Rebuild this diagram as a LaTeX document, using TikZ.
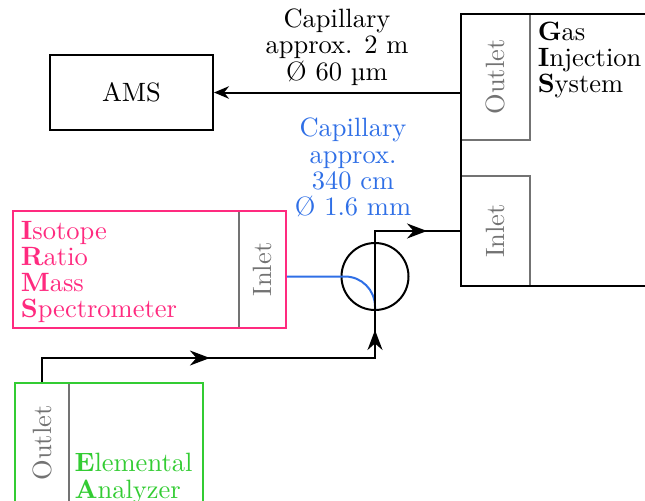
\documentclass[tikz,border=0pt]{standalone}
\usepackage{fontspec}
\usepackage{tikz}
\usetikzlibrary{arrows.meta,positioning,decorations.markings}
\definecolor{irmspink}{HTML}{FF2A7F}
\definecolor{eagreen}{HTML}{33CC33}
\definecolor{capblue}{HTML}{2F6FE6}
\newdimen\px \px=0.4pt

\begin{document}
\begin{tikzpicture}[x=\px,y=-\px,every node/.style={font=\fontsize{10.6}{10.5}\selectfont,align=center},box/.style={draw,thick,inner sep=0pt},sub/.style={draw=black!55,thick,inner sep=0pt},port/.style={rotate=90,text=black!55},line/.style={thick},arrowat/.style={postaction={decorate},decoration={markings,mark=at position #1 with {\arrow{Stealth[length=8pt,width=6pt]}}}},twoarrows/.style 2 args={postaction={decorate},decoration={markings,mark=at position #1 with {\arrow{Stealth[length=8pt,width=6pt]}},mark=at position #2 with {\arrow{Stealth[length=8pt,width=6pt]}}}}]
\clip (0,0) rectangle (645,500);
% gas injection system
\node[sub,minimum width=69\px,minimum height=126\px] (gisout) at (495.5,77) {};
\node[sub,minimum width=69\px,minimum height=110\px] (gisin) at (495.5,231) {};
\node[box,minimum width=200\px,minimum height=272\px] (gis) at (561,150) {};
\node[port] (gisout-txt) at (gisout) {Outlet};
\node[port] (gisin-txt) at (gisin) {Inlet};
\node[anchor=north west,inner sep=2.5pt,yshift=-2\px,align=left] (gis-txt) at (gisout.north east) {\textbf{G}as\\\textbf{I}njection\\\textbf{S}ystem};
% AMS
\node[box,minimum width=163\px,minimum height=75\px] (ams) at (131.5,92.5) {AMS};
\draw[line,-{Stealth[length=6pt,width=5pt]}] (ams.east -| gisout.west) -- node[above,inner sep=2.5pt] (cap-ams) {Capillary\\approx. 2 m\\Ø 60 µm} (ams.east);
% IRMS
\node[sub,minimum width=47\px,minimum height=117\px] (irmsin) at (262.5,269.5) {};
\node[box,draw=irmspink,minimum width=273\px,minimum height=117\px] (irms) at (149.5,269.5) {};
\node[port] (irmsin-txt) at (irmsin) {Inlet};
\node[anchor=north west,text=irmspink,yshift=-2\px,align=left] (irms-txt) at (irms.north west) {\textbf{I}sotope\\\textbf{R}atio\\\textbf{M}ass\\\textbf{S}pectrometer};
% valve
\node[draw,thick,circle,minimum size=67\px,inner sep=0pt] (valve) at (375,276.5) {};
\draw[line,capblue,rounded corners=30\px] (irms.east |- valve.center) -| (valve.south);
\node[text=capblue,anchor=south] (cap-irms) at (353,226) {Capillary\\approx.\\340 cm\\Ø 1.6 mm};
% elemental analyzer
\node[sub,minimum width=54\px,minimum height=120\px] (eaout) at (42,443) {};
\node[box,draw=eagreen,minimum width=188\px,minimum height=120\px] (ea) at (109,443) {};
\node[port] (eaout-txt) at (eaout) {Outlet};
\node[anchor=north west,inner sep=2pt,text=eagreen,align=left] (ea-txt) at (69,448) {\textbf{E}lemental\\\textbf{A}nalyzer};
% flow
\coordinate (ea-turn) at (375,358);
\draw[line,twoarrows={0.475}{0.953}] (eaout.north) |- (ea-turn) -- (valve.south);
\draw[line,arrowat=0.8] (valve.south) -- (valve.north) |- (gisin.west);
\end{tikzpicture}
\end{document}
